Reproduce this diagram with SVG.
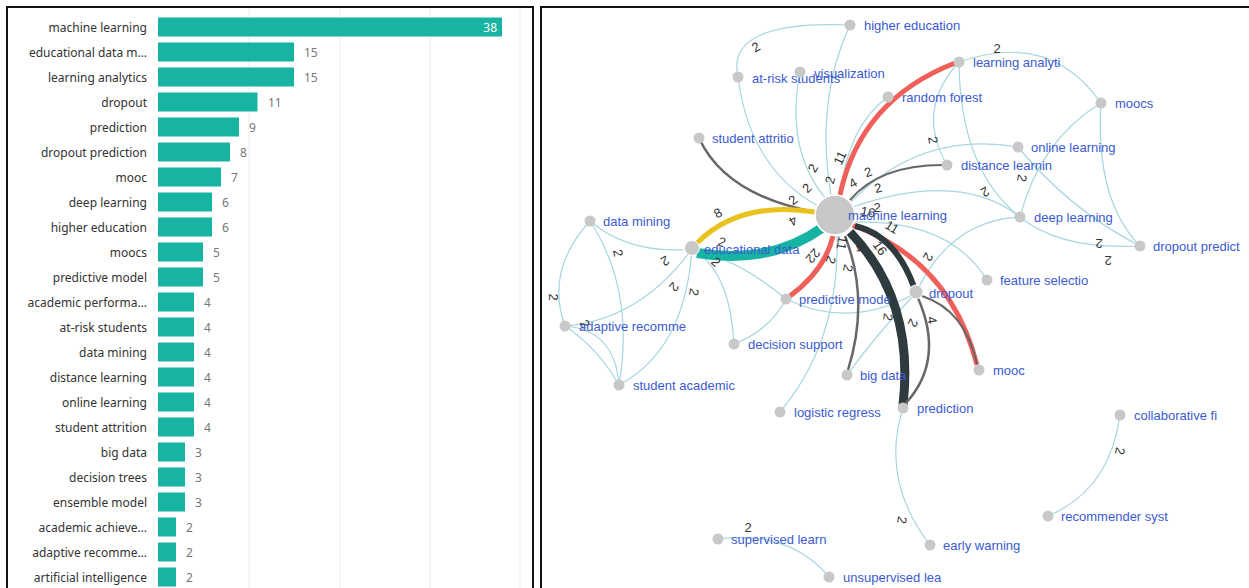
<svg xmlns="http://www.w3.org/2000/svg" width="1249" height="588" viewBox="0 0 1249 588">
<style>
.frame{fill:#fff;stroke:#111;stroke-width:2}
.grid{stroke:#ececec;stroke-width:1}
.bar{fill:#17b3a3}
.bl{font-family:"Noto Sans","Open Sans",sans-serif;font-size:12px;fill:#333;text-anchor:end;dominant-baseline:central}
.bv{font-family:"Noto Sans","Open Sans",sans-serif;font-size:12px;fill:#777;dominant-baseline:central}
.e{fill:none;stroke:#a6d6e0;stroke-width:1.2}
.g{fill:none;stroke:#676767}
.r{fill:none;stroke:#f0605a;stroke-width:5}
.d{fill:none;stroke:#2e3b3e}
.nd{fill:#c8c8c8}
.nl{font-family:"Liberation Sans",Arial,sans-serif;font-size:13px;fill:#3b5bcf;dominant-baseline:central}
.el{font-family:"Liberation Sans",Arial,sans-serif;font-size:13px;fill:#333;text-anchor:middle;dominant-baseline:central}
</style>
<rect width="1249" height="588" fill="#fff"/>
<g id="barchart">
<rect class="frame" x="7" y="7" width="526" height="600"/>
<line class="grid" x1="249" y1="8" x2="249" y2="588"/>
<line class="grid" x1="340" y1="8" x2="340" y2="588"/>
<line class="grid" x1="430" y1="8" x2="430" y2="588"/>
<line class="grid" x1="520" y1="8" x2="520" y2="588"/>
<g id="bars">
<rect class="bar" x="158" y="17.5" width="344" height="19"/>
<rect class="bar" x="158" y="42.5" width="136" height="19"/>
<rect class="bar" x="158" y="67.5" width="136" height="19"/>
<rect class="bar" x="158" y="92.5" width="99.5" height="19"/>
<rect class="bar" x="158" y="117.5" width="81" height="19"/>
<rect class="bar" x="158" y="142.5" width="72" height="19"/>
<rect class="bar" x="158" y="167.5" width="63" height="19"/>
<rect class="bar" x="158" y="192.5" width="54" height="19"/>
<rect class="bar" x="158" y="217.5" width="54" height="19"/>
<rect class="bar" x="158" y="242.5" width="45" height="19"/>
<rect class="bar" x="158" y="267.5" width="45" height="19"/>
<rect class="bar" x="158" y="292.5" width="36" height="19"/>
<rect class="bar" x="158" y="317.5" width="36" height="19"/>
<rect class="bar" x="158" y="342.5" width="36" height="19"/>
<rect class="bar" x="158" y="367.5" width="36" height="19"/>
<rect class="bar" x="158" y="392.5" width="36" height="19"/>
<rect class="bar" x="158" y="417.5" width="36" height="19"/>
<rect class="bar" x="158" y="442.5" width="27" height="19"/>
<rect class="bar" x="158" y="467.5" width="27" height="19"/>
<rect class="bar" x="158" y="492.5" width="27" height="19"/>
<rect class="bar" x="158" y="517.5" width="18" height="19"/>
<rect class="bar" x="158" y="542.5" width="18" height="19"/>
<rect class="bar" x="158" y="567.5" width="18" height="19"/>
</g>
<g id="barlabels">
<text class="bl" x="147" y="27">machine learning</text>
<text class="bl" x="147" y="52">educational data m…</text>
<text class="bl" x="147" y="77">learning analytics</text>
<text class="bl" x="147" y="102">dropout</text>
<text class="bl" x="147" y="127">prediction</text>
<text class="bl" x="147" y="152">dropout prediction</text>
<text class="bl" x="147" y="177">mooc</text>
<text class="bl" x="147" y="202">deep learning</text>
<text class="bl" x="147" y="227">higher education</text>
<text class="bl" x="147" y="252">moocs</text>
<text class="bl" x="147" y="277">predictive model</text>
<text class="bl" x="147" y="302">academic performa…</text>
<text class="bl" x="147" y="327">at-risk students</text>
<text class="bl" x="147" y="352">data mining</text>
<text class="bl" x="147" y="377">distance learning</text>
<text class="bl" x="147" y="402">online learning</text>
<text class="bl" x="147" y="427">student attrition</text>
<text class="bl" x="147" y="452">big data</text>
<text class="bl" x="147" y="477">decision trees</text>
<text class="bl" x="147" y="502">ensemble model</text>
<text class="bl" x="147" y="527">academic achieve…</text>
<text class="bl" x="147" y="552">adaptive recomme…</text>
<text class="bl" x="147" y="577">artificial intelligence</text>
</g>
<g id="barvalues">
<text class="bv" x="497" y="27" style="fill:#fff;text-anchor:end">38</text>
<text class="bv" x="304" y="52">15</text>
<text class="bv" x="304" y="77">15</text>
<text class="bv" x="268" y="102">11</text>
<text class="bv" x="249" y="127">9</text>
<text class="bv" x="240" y="152">8</text>
<text class="bv" x="231" y="177">7</text>
<text class="bv" x="222" y="202">6</text>
<text class="bv" x="222" y="227">6</text>
<text class="bv" x="213" y="252">5</text>
<text class="bv" x="213" y="277">5</text>
<text class="bv" x="204" y="302">4</text>
<text class="bv" x="204" y="327">4</text>
<text class="bv" x="204" y="352">4</text>
<text class="bv" x="204" y="377">4</text>
<text class="bv" x="204" y="402">4</text>
<text class="bv" x="204" y="427">4</text>
<text class="bv" x="195" y="452">3</text>
<text class="bv" x="195" y="477">3</text>
<text class="bv" x="195" y="502">3</text>
<text class="bv" x="186" y="527">2</text>
<text class="bv" x="186" y="552">2</text>
<text class="bv" x="186" y="577">2</text>
</g>
</g>
<rect class="frame" x="541" y="7" width="720" height="600"/>
<g id="connectors">
<path class="e" d="M850,25 Q725,20 738,77"/>
<path class="e" d="M738,77 Q750,170 820,207"/>
<path class="e" d="M800,72 Q785,150 826,199"/>
<path class="e" d="M850,25 Q815,100 831,196"/>
<path class="e" d="M888,97 Q848,125 840,196"/>
<path class="e" d="M959,62 Q1050,30 1101,103"/>
<path class="e" d="M959,62 Q915,110 947,165"/>
<path class="e" d="M959,62 Q960,170 1020,217"/>
<path class="e" d="M1101,103 Q1040,140 1020,217"/>
<path class="e" d="M1101,103 Q1095,200 1140,246"/>
<path class="e" d="M1018,147 Q1070,210 1140,246"/>
<path class="e" d="M1020,217 Q1060,250 1140,246"/>
<path class="e" d="M850,203 Q920,130 1018,147"/>
<path class="e" d="M853,207 Q960,170 1020,217"/>
<path class="e" d="M855,222 Q950,220 987,280"/>
<path class="e" d="M916,293 Q950,220 1020,217"/>
<path class="e" d="M786,299 Q850,330 916,293"/>
<path class="e" d="M916,293 Q880,330 847,375"/>
<path class="e" d="M837,235 Q840,340 780,412"/>
<path class="e" d="M692,249 Q740,260 786,299"/>
<path class="e" d="M692,249 Q730,270 734,344"/>
<path class="e" d="M786,299 Q770,330 734,344"/>
<path class="e" d="M903,408 Q880,480 930,545"/>
<path class="e" d="M1120,415 Q1110,490 1048,516"/>
<path class="e" d="M718,539 Q790,530 829,577"/>
<path class="e" d="M590,221 Q630,255 692,249"/>
<path class="e" d="M590,221 Q545,270 565,326"/>
<path class="e" d="M590,221 Q635,290 619,385"/>
<path class="e" d="M692,249 Q640,320 565,326"/>
<path class="e" d="M692,249 Q685,350 619,385"/>
<path class="e" d="M565,326 Q615,330 619,385"/>
<path class="e" d="M565,326 Q598,348 619,385"/>
<path class="g" stroke-width="2.5" d="M699,138 Q725,195 815,212"/>
<path class="g" stroke-width="2" d="M850,200 Q880,165 942,165"/>
<path fill="none" stroke="#e8c21e" stroke-width="5" d="M697,243 Q740,200 815,212"/>
<path fill="none" stroke="#17b3a3" stroke-width="10" d="M697,253 Q770,265 822,228"/>
<path class="r" d="M840,195 Q860,100 955,63"/>
<path class="r" d="M852,225 Q950,260 977,365"/>
<path class="r" d="M833,236 Q825,270 790,296"/>
<path class="d" stroke-width="9" d="M850,232 Q915,300 903,405"/>
<path class="d" stroke-width="6" d="M855,226 Q895,235 914,287"/>
<path class="g" stroke-width="2.5" stroke="#555" d="M845,236 Q870,300 848,370"/>
<path class="g" stroke-width="2" d="M922,296 Q965,310 977,364"/>
<path class="g" stroke-width="2.5" stroke="#444" d="M918,298 Q945,360 906,403"/>
</g>
<g id="edgelabels">
<text class="el" x="756" y="47" transform="rotate(-30 756 47)">2</text>
<text class="el" x="997" y="48">2</text>
<text class="el" x="840" y="158" transform="rotate(-65 840 158)">11</text>
<text class="el" x="813" y="168" transform="rotate(-60 813 168)">2</text>
<text class="el" x="830" y="180" transform="rotate(-75 830 180)">2</text>
<text class="el" x="807" y="188" transform="rotate(-45 807 188)">2</text>
<text class="el" x="793" y="200" transform="rotate(-40 793 200)">2</text>
<text class="el" x="793" y="221" transform="rotate(150 793 221)">4</text>
<text class="el" x="853" y="183" transform="rotate(-30 853 183)">4</text>
<text class="el" x="868" y="172" transform="rotate(-20 868 172)">2</text>
<text class="el" x="878" y="188" transform="rotate(-15 878 188)">2</text>
<text class="el" x="933" y="140" transform="rotate(80 933 140)">2</text>
<text class="el" x="985" y="192" transform="rotate(150 985 192)">2</text>
<text class="el" x="1022" y="178" transform="rotate(100 1022 178)">2</text>
<text class="el" x="868" y="212" transform="rotate(10 868 212)">16</text>
<text class="el" x="877" y="207">2</text>
<text class="el" x="892" y="227" transform="rotate(30 892 227)">11</text>
<text class="el" x="880" y="248" transform="rotate(55 880 248)">16</text>
<text class="el" x="860" y="248" transform="rotate(60 860 248)">4</text>
<text class="el" x="842" y="243" transform="rotate(100 842 243)">11</text>
<text class="el" x="813" y="256" transform="rotate(130 813 256)">22</text>
<text class="el" x="831" y="260" transform="rotate(110 831 260)">2</text>
<text class="el" x="848" y="268" transform="rotate(100 848 268)">2</text>
<text class="el" x="928" y="257" transform="rotate(120 928 257)">2</text>
<text class="el" x="888" y="317" transform="rotate(100 888 317)">2</text>
<text class="el" x="913" y="323" transform="rotate(115 913 323)">2</text>
<text class="el" x="932" y="320" transform="rotate(80 932 320)">4</text>
<text class="el" x="718" y="213" transform="rotate(-30 718 213)">8</text>
<text class="el" x="722" y="242" transform="rotate(20 722 242)">2</text>
<text class="el" x="716" y="262" transform="rotate(45 716 262)">2</text>
<text class="el" x="665" y="261" transform="rotate(150 665 261)">2</text>
<text class="el" x="618" y="253" transform="rotate(80 618 253)">2</text>
<text class="el" x="674" y="287" transform="rotate(130 674 287)">2</text>
<text class="el" x="694" y="292" transform="rotate(100 694 292)">2</text>
<text class="el" x="553" y="297" transform="rotate(90 553 297)">2</text>
<text class="el" x="585" y="324" transform="rotate(60 585 324)">2</text>
<text class="el" x="1099" y="243" transform="rotate(180 1099 243)">2</text>
<text class="el" x="1108" y="260" transform="rotate(180 1108 260)">2</text>
<text class="el" x="1120" y="451" transform="rotate(100 1120 451)">2</text>
<text class="el" x="902" y="520" transform="rotate(100 902 520)">2</text>
<text class="el" x="748" y="527">2</text>
</g>
<g id="n-higher-education"><circle class="nd" cx="850" cy="25" r="5.5"/><text class="nl" x="864" y="25">higher education</text></g>
<g id="n-at-risk"><circle class="nd" cx="738" cy="77" r="5.5"/><text class="nl" x="752" y="78">at-risk students</text></g>
<g id="n-visualization"><circle class="nd" cx="800" cy="72" r="5.5"/><text class="nl" x="814" y="73">visualization</text></g>
<g id="n-learning-analyti"><circle class="nd" cx="959" cy="62" r="5.5"/><text class="nl" x="973" y="62">learning analyti</text></g>
<g id="n-random-forest"><circle class="nd" cx="888" cy="97" r="5.5"/><text class="nl" x="902" y="97">random forest</text></g>
<g id="n-moocs"><circle class="nd" cx="1101" cy="103" r="5.5"/><text class="nl" x="1115" y="103">moocs</text></g>
<g id="n-student-attritio"><circle class="nd" cx="699" cy="138" r="5.5"/><text class="nl" x="712" y="138">student attritio</text></g>
<g id="n-online-learning"><circle class="nd" cx="1018" cy="147" r="5.5"/><text class="nl" x="1031" y="147">online learning</text></g>
<g id="n-distance-learnin"><circle class="nd" cx="947" cy="165" r="5.5"/><text class="nl" x="961" y="165">distance learnin</text></g>
<g id="n-data-mining"><circle class="nd" cx="590" cy="221" r="5.5"/><text class="nl" x="603" y="221">data mining</text></g>
<g id="n-deep-learning"><circle class="nd" cx="1020" cy="217" r="5.5"/><text class="nl" x="1034" y="217">deep learning</text></g>
<g id="n-dropout-predict"><circle class="nd" cx="1140" cy="246" r="5.5"/><text class="nl" x="1153" y="246">dropout predict</text></g>
<g id="n-educational-data"><circle class="nd" cx="692" cy="248" r="7.5" stroke="#fff" stroke-width="1"/><text class="nl" x="704" y="249">educational data</text></g>
<g id="n-feature-selectio"><circle class="nd" cx="987" cy="280" r="5.5"/><text class="nl" x="1000" y="280">feature selectio</text></g>
<g id="n-dropout"><circle class="nd" cx="916" cy="292" r="7" stroke="#fff" stroke-width="1"/><text class="nl" x="929" y="293">dropout</text></g>
<g id="n-predictive-mode"><circle class="nd" cx="786" cy="299" r="5.5"/><text class="nl" x="799" y="299">predictive mode</text></g>
<g id="n-adaptive-recomme"><circle class="nd" cx="565" cy="326" r="5.5"/><text class="nl" x="579" y="326">adaptive recomme</text></g>
<g id="n-decision-support"><circle class="nd" cx="734" cy="344" r="5.5"/><text class="nl" x="748" y="344">decision support</text></g>
<g id="n-mooc"><circle class="nd" cx="979" cy="370" r="5.5"/><text class="nl" x="993" y="370">mooc</text></g>
<g id="n-big-data"><circle class="nd" cx="847" cy="375" r="5.5"/><text class="nl" x="860" y="375">big data</text></g>
<g id="n-student-academic"><circle class="nd" cx="619" cy="385" r="5.5"/><text class="nl" x="633" y="385">student academic</text></g>
<g id="n-prediction"><circle class="nd" cx="903" cy="408" r="5.5"/><text class="nl" x="917" y="408">prediction</text></g>
<g id="n-logistic-regress"><circle class="nd" cx="780" cy="412" r="5.5"/><text class="nl" x="794" y="412">logistic regress</text></g>
<g id="n-collaborative-fi"><circle class="nd" cx="1120" cy="415" r="5.5"/><text class="nl" x="1134" y="415">collaborative fi</text></g>
<g id="n-recommender-syst"><circle class="nd" cx="1048" cy="516" r="5.5"/><text class="nl" x="1061" y="516">recommender syst</text></g>
<g id="n-early-warning"><circle class="nd" cx="930" cy="545" r="5.5"/><text class="nl" x="943" y="545">early warning</text></g>
<g id="n-supervised-learn"><circle class="nd" cx="718" cy="539" r="5.5"/><text class="nl" x="731" y="539">supervised learn</text></g>
<g id="n-unsupervised-lea"><circle class="nd" cx="829" cy="577" r="5.5"/><text class="nl" x="843" y="577">unsupervised lea</text></g>
<g id="n-machine-learning"><circle class="nd" cx="835" cy="215" r="20" stroke="#fff" stroke-width="1.5"/><text class="nl" x="848" y="215">machine learning</text></g>
</svg>
